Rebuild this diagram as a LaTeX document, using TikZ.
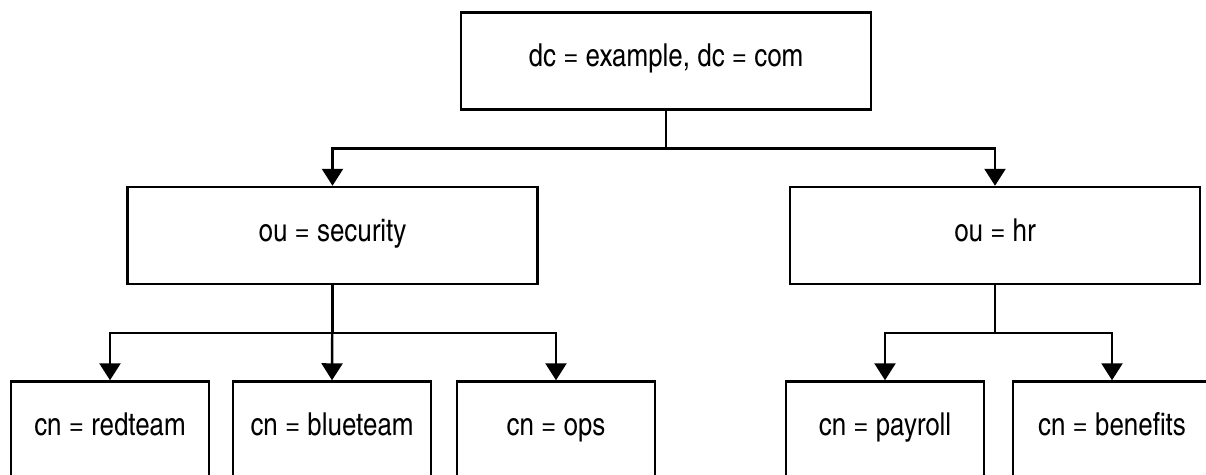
\documentclass[tikz,border=0pt]{standalone}
\usepackage{fontspec}
\setmainfont{texgyreheroscn}[Extension=.otf, UprightFont=*-regular]
\usepackage{tikz}
\usetikzlibrary{arrows.meta, positioning}

\begin{document}
\begin{tikzpicture}[
  x=0.02cm, y=-0.02cm,
  entry/.style = {draw, line width=1.4pt, minimum height=1.94cm, inner sep=0pt,
                  text height=0.8em, text depth=0.12em,
                  align=center, font=\fontsize{18}{22}\selectfont},
  leaf/.style  = {entry, minimum width=3.96cm},
  arr/.style   = {-{Triangle[width=0.42cm, length=0.34cm]}, line width=1.4pt}
]
\useasboundingbox (0,0) rectangle (1206,475);
\clip (0,0) rectangle (1206,475);

\node[entry, minimum width=8.2cm] (root) at (666, 61)  {dc = example, dc = com};
\node[entry, minimum width=8.2cm] (sec)  at (332.5,235.5) {ou = security};
\node[entry, minimum width=8.2cm] (hr)   at (995, 235.5) {ou = hr};

\node[leaf] (red)  at (110, 430) {cn = redteam};
\node[leaf] (blue) at (332, 430) {cn = blueteam};
\node[leaf] (ops)  at (556, 430) {cn = ops};
\node[leaf] (pay)  at (885, 430) {cn = payroll};
\node[leaf] (ben)  at (1112,430) {cn = benefits};

\draw[arr] (root.south) -- ++(0,38) -| (sec.north);
\draw[arr] (root.south) -- ++(0,38) -| (hr.north);
\draw[arr] (sec.south) -- ++(0,48) -| (red.north);
\draw[arr] (sec.south) -- (blue.north);
\draw[arr] (sec.south) -- ++(0,48) -| (ops.north);
\draw[arr] (hr.south) -- ++(0,48) -| (pay.north);
\draw[arr] (hr.south) -- ++(0,48) -| (ben.north);
\end{tikzpicture}
\end{document}
